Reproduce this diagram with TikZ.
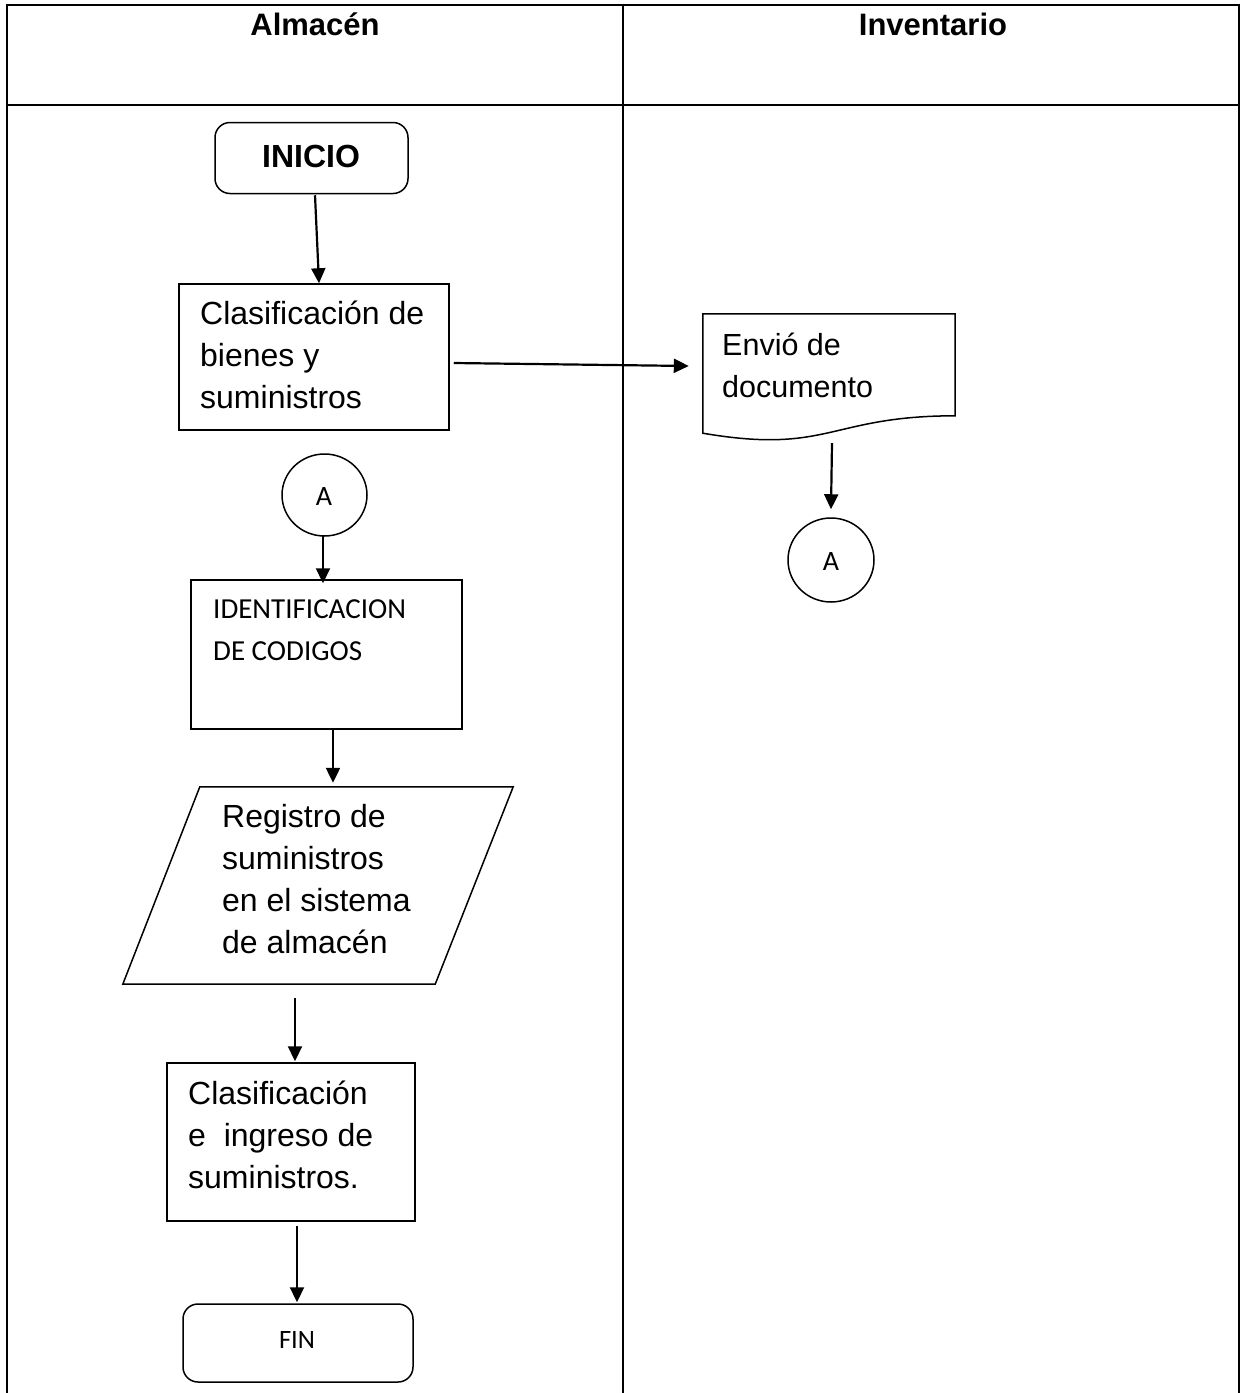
\documentclass[tikz,border=0pt]{standalone}
\usepackage{fontspec}
\setmainfont{Liberation Sans}
\newfontfamily\calfont{Carlito}
\usetikzlibrary{arrows.meta,calc,shapes.geometric}

\begin{document}
\begin{tikzpicture}[x=1pt,y=-1pt,
  lane/.style={line width=2pt},
  box/.style={draw, line width=1.5pt, inner sep=0pt},
  ghost/.style={draw=none, inner sep=0pt},
  term/.style={box, rounded corners=15pt},
  flow/.style={line width=2.2pt, -{Triangle[length=15pt,width=14pt]}},
  hdr/.style={anchor=base, inner sep=0pt, font=\bfseries\fontsize{31}{36}\selectfont},
  txt/.style={anchor=base west, inner sep=0pt, font=\fontsize{32}{42}\selectfont},
  ctxt/.style={anchor=base west, inner sep=0pt, font=\calfont\fontsize{29}{40}\selectfont},
  ltr/.style={anchor=base, inner sep=0pt, font=\calfont\fontsize{28}{32}\selectfont},
]
\useasboundingbox (0,0) rectangle (1241,1393);

% swimlane table
\draw[lane] (7,1393) -- (7,5) -- (1239,5) -- (1239,1393);
\draw[lane] (7,105) -- (1239,105);
\draw[lane] (623,5) -- (623,1393);
\node[hdr] (h1) at (315,35) {Almacén};
\node[hdr] (h2) at (933,35) {Inventario};

% start
\node[term, minimum width=193pt, minimum height=71pt] (ini) at (311.5,158) {};
\node[anchor=base, inner sep=0pt, font=\bfseries\fontsize{32}{38}\selectfont] (ini-t) at (311,167) {INICIO};

% classification of goods
\node[box, minimum width=270pt, minimum height=146pt] (c1) at (314,357) {};
\node[txt] (c1-a) at (200,324) {Clasificación de};
\node[txt] (c1-b) at (200,366) {bienes y};
\node[txt] (c1-c) at (200,408) {suministros};

% document sent to inventory
\node[ghost, minimum width=252pt, minimum height=119pt] (doc) at (829,373.5) {};
\draw[line width=1.5pt] (doc.north west) -- (doc.north east) -- ($(doc.north east)+(0,102)$)
  .. controls ($(doc.north east)+(-126,102)$) and ($(doc.north east)+(-126,141)$) .. (doc.south west) -- cycle;
\node[txt, font=\fontsize{30.5}{42}\selectfont] (doc-a) at (722,355) {Envió de};
\node[txt, font=\fontsize{30.5}{42}\selectfont] (doc-b) at (722,397) {documento};

% connectors A
\node[box, ellipse, minimum width=86pt, minimum height=84pt] (ar) at (831,560) {};
\node[ltr] (ar-t) at (831,570) {A};
\node[box, ellipse, minimum width=85pt, minimum height=82pt] (al) at (324.5,495) {};
\node[ltr] (al-t) at (324,505) {A};

% code identification
\node[box, minimum width=271pt, minimum height=149pt] (id) at (326.5,654.5) {};
\node[ctxt] (id-a) at (213,618) {IDENTIFICACION};
\node[ctxt] (id-b) at (213,660) {DE CODIGOS};

% registration (input/output)
\node[ghost, minimum width=390pt, minimum height=197pt] (reg) at (318,885.5) {};
\draw[line width=1.5pt] ($(reg.north west)+(77,0)$) -- (reg.north east)
  -- ($(reg.south east)+(-78,0)$) -- (reg.south west) -- cycle;
\node[txt] (reg-a) at (222,827) {Registro de};
\node[txt] (reg-b) at (222,869) {suministros};
\node[txt] (reg-c) at (222,911) {en el sistema};
\node[txt] (reg-d) at (222,953) {de almacén};

% classification and entry
\node[box, minimum width=248pt, minimum height=158pt] (c2) at (291,1142) {};
\node[txt] (c2-a) at (188,1104) {Clasificación};
\node[txt] (c2-b) at (188,1146) {e\ \ ingreso de};
\node[txt] (c2-c) at (188,1188) {suministros.};

% end
\node[term, minimum width=230pt, minimum height=78pt] (fin) at (298,1343) {};
\node[ltr, font=\calfont\fontsize{26.5}{30}\selectfont] (fin-t) at (297,1348) {FIN};

% flow arrows
\draw[flow] ($(ini.south)+(3.5,1)$) -- ($(c1.north)+(5,0)$);
\draw[flow] ($(c1.east)+(4,6)$) -- ($(doc.west)+(-14,-7.5)$);
\draw[flow] ($(doc.south)+(3,10)$) -- ($(ar.north)+(0,-8)$);
\draw[flow] ($(al.south)+(-1.5,-2)$) -- ($(id.north)+(-3.5,4)$);
\draw[flow] ($(id.south)+(6.5,0)$) -- ($(reg.north)+(15,-4)$);
\draw[flow] ($(reg.south)+(-23,14)$) -- ($(c2.north)+(4,-1)$);
\draw[flow] ($(c2.south)+(6,4)$) -- ($(fin.north)+(-1,-1)$);
\end{tikzpicture}
\end{document}
